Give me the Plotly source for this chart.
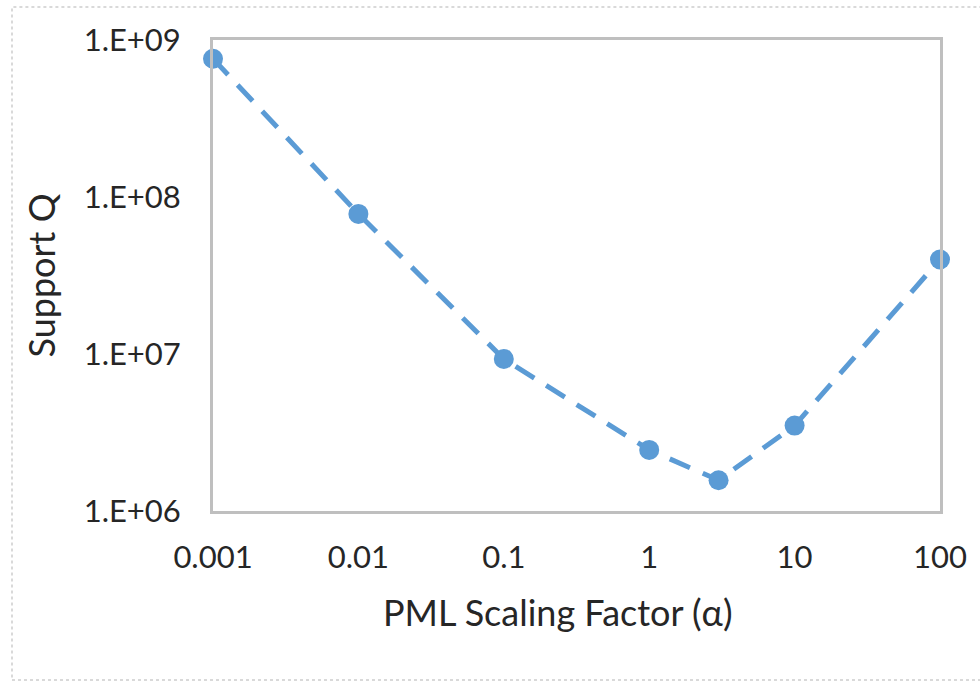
import plotly.graph_objects as go

# PML scaling factor sweep and resulting support Q
alpha = [0.001, 0.01, 0.1, 1, 3, 10, 100]
support_q = [7.6e8, 7.8e7, 9.3e6, 2.45e6, 1.57e6, 3.5e6, 4.0e7]

x_tick_vals = [0.001, 0.01, 0.1, 1, 10, 100]
x_tick_text = ["0.001", "0.01", "0.1", "1", "10", "100"]
y_tick_vals = [1e6, 1e7, 1e8, 1e9]
y_tick_text = ["1.E+06", "1.E+07", "1.E+08", "1.E+09"]

blue = "#5b9bd5"
frame = "#bfbfbf"
text_color = "#262626"
tick_font = dict(family="Lato", size=31, color=text_color)
title_font = dict(family="Lato", size=36, color=text_color)

fig = go.Figure()
fig.add_trace(go.Scatter(
    x=alpha, y=support_q,
    mode="lines+markers",
    line=dict(color=blue, width=5, dash="22px,14px"),
    marker=dict(color=blue, size=20),
    cliponaxis=False,
    showlegend=False,
))

fig.update_xaxes(
    type="log", range=[-3, 2],
    tickvals=x_tick_vals, ticktext=x_tick_text,
    showgrid=False, zeroline=False,
    showline=True, mirror=True, linecolor=frame, linewidth=3,
    ticks="", ticklabelstandoff=17,
    tickfont=tick_font,
)
fig.update_yaxes(
    type="log", range=[6, 9],
    tickvals=y_tick_vals, ticktext=y_tick_text,
    showgrid=False, zeroline=False,
    showline=True, mirror=True, linecolor=frame, linewidth=3,
    ticks="", ticklabelstandoff=23,
    tickfont=tick_font,
    title=dict(text="Support Q", font=title_font, standoff=18),
)

# x-axis title, centred on the whole chart rather than the plot area
fig.add_annotation(
    text="PML Scaling Factor (α)", font=title_font,
    xref="paper", yref="paper", x=345/727, y=-101/471,
    xanchor="center", yanchor="middle", showarrow=False,
)

# light dotted border around the chart area
fig.add_shape(
    type="rect", xref="paper", yref="paper",
    x0=-201/727, x1=1.1, y0=-169/471, y1=1 + 33/471,
    line=dict(color="#d9d9d9", width=2, dash="dot"),
    layer="below",
)

fig.update_layout(
    width=980, height=681,
    margin=dict(l=213, r=40, t=40, b=170),
    paper_bgcolor="white", plot_bgcolor="white",
    font=tick_font,
)

fig.write_html("out.html")
